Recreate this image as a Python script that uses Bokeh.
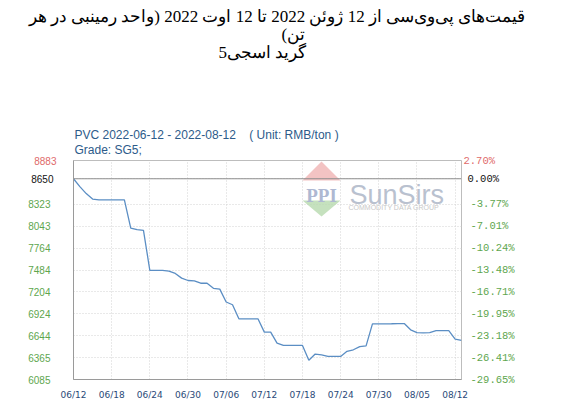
from bokeh.plotting import figure
from bokeh.models import Range1d, LinearAxis, FixedTicker, Label, Span, PolyAnnotation, Title
from bokeh.embed import file_html
from bokeh.resources import INLINE

# ---------------- data ----------------
title_lines = [
    "قیمت‌های پی‌وی‌سی از 12 ژوئن 2022 تا 12 اوت 2022 (واحد رمینبی در هر",
    "تن)",
    "گرید اسجی5",
]
subtitle = "PVC 2022-06-12 - 2022-08-12 \u00a0\u00a0\u00a0( Unit: RMB/ton )"
grade = "Grade: SG5;"

day = list(range(62))
price = [
    8650, 8550, 8460, 8390, 8380, 8380, 8380, 8380, 8380, 8020,
    8000, 7990, 7480, 7480, 7480, 7470, 7440, 7380, 7350, 7345,
    7315, 7315, 7250, 7240, 7075, 7040, 6860, 6860, 6860, 6860,
    6690, 6690, 6550, 6520, 6520, 6520, 6520, 6330, 6410, 6400,
    6380, 6380, 6380, 6445, 6465, 6505, 6515, 6795, 6795, 6795,
    6797, 6800, 6800, 6720, 6685, 6680, 6685, 6710, 6710, 6710,
    6600, 6585,
]
x_ticks = [0, 6, 12, 18, 24, 30, 36, 42, 48, 54, 60]
x_labels = ["06/12", "06/18", "06/24", "06/30", "07/06", "07/12",
            "07/18", "07/24", "07/30", "08/05", "08/12"]
base_price = 8650
y_ticks = [8883, 8650, 8323, 8043, 7764, 7484, 7204, 6924, 6644, 6365, 6085]
pct_labels = ["2.70%", "0.00%", "-3.77%", "-7.01%", "-10.24%", "-13.48%",
              "-16.71%", "-19.95%", "-23.18%", "-26.41%", "-29.65%"]
RED, BLACK, GREEN = "#e06a6a", "#111111", "#5ea64e"

BLUE_TXT = "#2d5b8a"
X0, X1 = 0, 61

p = figure(width=576, height=402,
           x_range=Range1d(X0, X1), y_range=Range1d(y_ticks[-1], y_ticks[0]),
           output_backend="svg", toolbar_location=None,
           min_border_left=73, min_border_right=115,
           min_border_top=160, min_border_bottom=22)
p.background_fill_color = "white"
p.border_fill_color = "white"
p.outline_line_color = "#bdbdbd"

# x axis
p.xaxis.ticker = FixedTicker(ticks=x_ticks)
p.xaxis.major_label_overrides = {t: l for t, l in zip(x_ticks, x_labels)}
p.xaxis.major_tick_line_color = None
p.xaxis.major_tick_out = 0
p.xaxis.minor_tick_line_color = None
p.xaxis.minor_tick_out = 0
p.xaxis.axis_line_color = "#9a9a9a"
p.xaxis.major_label_text_font = "DejaVu Sans"
p.xaxis.major_label_text_font_size = "9px"
p.xaxis.major_label_text_color = "#2a4a78"
p.xaxis.major_label_standoff = 10


def style_y(ax, font, size, color, standoff, line_color=None):
    ax.axis_line_color = line_color
    ax.major_tick_line_color = None
    ax.major_tick_out = 0
    ax.major_tick_in = 0
    ax.minor_tick_line_color = None
    ax.minor_tick_out = 0
    ax.minor_tick_in = 0
    ax.major_label_text_font = font
    ax.major_label_text_font_size = size
    ax.major_label_text_color = color
    ax.major_label_standoff = standoff


# left axes: price labels (one axis per label colour, stacked onto the same spot)
ly = p.yaxis[0]
ly.ticker = FixedTicker(ticks=[y_ticks[0]])
style_y(ly, "Liberation Sans", "10px", RED, 17, "#9a9a9a")
ax_b = LinearAxis(ticker=FixedTicker(ticks=[y_ticks[1]]))
style_y(ax_b, "Liberation Sans", "10px", BLACK, -22)
p.add_layout(ax_b, "left")
ax_g = LinearAxis(ticker=FixedTicker(ticks=y_ticks[2:]))
style_y(ax_g, "Liberation Sans", "10px", GREEN, -22)
p.add_layout(ax_g, "left")

# right axes: percentage change labels
pct_map = {v: s for v, s in zip(y_ticks, pct_labels)}
r_r = LinearAxis(ticker=FixedTicker(ticks=[y_ticks[0]]), major_label_overrides=pct_map)
style_y(r_r, "Liberation Mono", "10.5px", RED, 2)
p.add_layout(r_r, "right")
r_b = LinearAxis(ticker=FixedTicker(ticks=[y_ticks[1]]), major_label_overrides=pct_map)
style_y(r_b, "Liberation Mono", "10.5px", BLACK, -31)
p.add_layout(r_b, "right")
r_g = LinearAxis(ticker=FixedTicker(ticks=y_ticks[2:]), major_label_overrides=pct_map)
style_y(r_g, "Liberation Mono", "10.5px", GREEN, -32)
p.add_layout(r_g, "right")

# grids
p.xgrid.ticker = FixedTicker(ticks=x_ticks)
p.ygrid.ticker = FixedTicker(ticks=y_ticks)
for g in (p.xgrid, p.ygrid):
    g.grid_line_color = "#d2d2d2"
    g.grid_line_dash = "1 2"
    g.grid_line_width = 1

# watermark logo (screen units, relative to plot frame)
p.add_layout(PolyAnnotation(xs=[248, 229, 267], ys=[218, 199, 199], xs_units="screen", ys_units="screen",
                            fill_color="#f0b4b4", fill_alpha=0.8, line_alpha=0, level="underlay"))
p.add_layout(PolyAnnotation(xs=[229, 267, 248], ys=[179, 179, 163], xs_units="screen", ys_units="screen",
                            fill_color="#b6d9ae", fill_alpha=0.8, line_alpha=0, level="underlay"))
p.add_layout(Label(x=248, y=184, x_units="screen", y_units="screen", text="PPI",
                   text_align="center", text_baseline="alphabetic", text_font="Liberation Serif",
                   text_font_style="bold", text_font_size="19px", text_color="#aeb8d2", level="underlay"))
p.add_layout(Label(x=276, y=185, x_units="screen", y_units="screen", text="SunSirs",
                   text_align="left", text_baseline="alphabetic", text_font="Liberation Sans",
                   text_font_size="27px", text_color="#b9c1cf", level="underlay"))
p.add_layout(Label(x=275, y=172, x_units="screen", y_units="screen", text="COMMODITY DATA GROUP",
                   text_align="left", text_baseline="alphabetic", text_font="Liberation Sans",
                   text_font_size="7px", text_color="#c8c8c8", level="underlay"))

# base line and data
p.add_layout(Span(location=base_price, dimension="width", line_color="#8e8e8e", line_width=1.2))
p.line(day, price, line_color="#5b8ec4", line_width=1.3)

# titles (first added = closest to the frame)
p.add_layout(Title(text=grade, align="left", offset=1, standoff=8, text_font="Liberation Sans",
                   text_font_size="12px", text_font_style="normal", text_color=BLUE_TXT), "above")
p.add_layout(Title(text=subtitle, align="left", offset=1, standoff=-10, text_font="Liberation Sans",
                   text_font_size="12px", text_font_style="normal", text_color=BLUE_TXT), "above")
# empty spacer between the blocks
p.add_layout(Title(text="\u00a0", align="left", standoff=0, text_font="Liberation Serif",
                   text_font_size="61.6px", text_font_style="normal"), "above")
for txt, off in zip(reversed(title_lines), [145, 208, -45]):
    p.add_layout(Title(text="\u202B" + txt + "\u202C", align="left", offset=off, standoff=-3,
                       text_font="Liberation Serif", text_font_size="17px",
                       text_font_style="normal", text_color="black"), "above")

open("out.html", "w").write(file_html(p, INLINE))
